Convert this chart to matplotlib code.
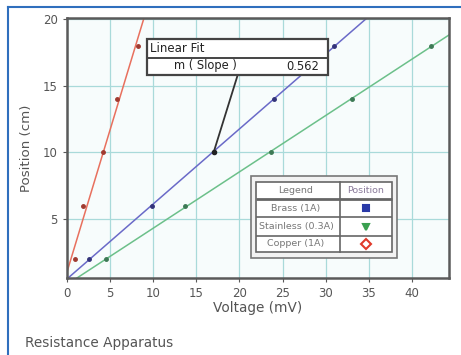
#Resistance apparatus: position vs voltage with linear fits
import matplotlib.pyplot as plt
from matplotlib.patches import Rectangle
import numpy as np

#Data
position = [2, 6, 10, 14, 18]
brass_v = [2.5, 9.8, 17.0, 24.0, 31.0]
stainless_v = [4.5, 13.7, 23.7, 33.1, 42.2]
copper_v = [0.9, 1.9, 4.2, 5.8, 8.2]

series_names = ['Brass (1A)', 'Stainless (0.3A)', 'Copper (1A)']
x_ticks = [0, 5, 10, 15, 20, 25, 30, 35, 40]
y_ticks = [5, 10, 15, 20]
slope_label = '0.562'

W, H = 461, 355
def fx(px):
    return px / W
def fy(py):
    return 1 - py / H

fig = plt.figure(figsize=(W / 100, H / 100), dpi=100)
fig.patch.set_facecolor('white')

#blue frame round the panel
fig.add_artist(plt.Line2D([fx(8), fx(8)], [fy(7), 0], color='#2f6fbd', lw=1.5))
fig.add_artist(plt.Line2D([fx(8), 1], [fy(7), fy(7)], color='#2f6fbd', lw=1.5))

ax = fig.add_axes([fx(67), fy(278), fx(449) - fx(67), fy(18) - fy(278)])
ax.set_facecolor('#f7fcfc')
ax.set_xlim(0, 44.3)
ax.set_ylim(0.6, 20.07)
ax.set_xticks(x_ticks)
ax.set_yticks(y_ticks)
ax.grid(True, color='#a9dada', lw=0.9)
ax.set_axisbelow(True)
for s in ax.spines.values():
    s.set_color('#5a5a5a')
    s.set_linewidth(1.8)
ax.tick_params(colors='#5a5a5a', labelsize=8.5, length=3, width=0.8, labelcolor='#555555')
ax.set_xlabel('Voltage (mV)', fontsize=9.8, color='#555555', labelpad=1)
ax.set_ylabel('Position (cm)', fontsize=9.6, color='#555555', labelpad=7)

line_colors = ['#6a6ac8', '#6cc08a', '#e8705e']
dot_colors = ['#33337a', '#3d7a55', '#a03a30']
xx = np.linspace(0, 44.3, 200)
for xs, lc, dc in zip([brass_v, stainless_v, copper_v], line_colors, dot_colors):
    m, b = np.polyfit(xs, position, 1)
    ax.plot(xx, m * xx + b, color=lc, lw=1.1)
    ax.plot(xs, position, 'o', color=dc, ms=2.5, zorder=3)

#linear fit box with its pointer
ax.annotate('', xy=(brass_v[2], position[2]), xycoords='data',
            xytext=(fx(238), fy(74)), textcoords='figure fraction',
            arrowprops=dict(arrowstyle='-', color='#333333', lw=1.3, shrinkA=0, shrinkB=0))
ax.plot(brass_v[2], position[2], 'o', color='#222222', ms=3, zorder=4)
fig.add_artist(Rectangle((fx(147), fy(75)), fx(328) - fx(147), fy(39) - fy(75),
                         transform=fig.transFigure, facecolor='white', edgecolor='#444444', lw=1.6))
fig.add_artist(plt.Line2D([fx(147), fx(328)], [fy(58), fy(58)], color='#444444', lw=1.4))
fig.text(fx(150), fy(48), 'Linear Fit', fontsize=8.5, color='#222222', va='center')
fig.text(fx(205), fy(66), 'm ( Slope )', fontsize=8.3, color='#222222', va='center', ha='center')
fig.text(fx(319), fy(66), slope_label, fontsize=8.3, color='#222222', va='center', ha='right')

#legend table
fig.add_artist(Rectangle((fx(251), fy(258)), fx(397) - fx(251), fy(176) - fy(258),
                         transform=fig.transFigure, facecolor='#f2f2f2', edgecolor='#777777', lw=1.2))
fig.add_artist(Rectangle((fx(256), fy(252)), fx(392) - fx(256), fy(182) - fy(252),
                         transform=fig.transFigure, facecolor='white', edgecolor='#666666', lw=1.2))
for py, lw in [(199, 2.0), (217, 1.2), (236, 1.2)]:
    fig.add_artist(plt.Line2D([fx(256), fx(392)], [fy(py), fy(py)], color='#666666', lw=lw,
                              solid_capstyle='butt'))
fig.add_artist(plt.Line2D([fx(340), fx(340)], [fy(182), fy(252)], color='#666666', lw=1.2))
fig.text(fx(296), fy(190.5), 'Legend', fontsize=6.8, color='#777777', ha='center', va='center')
fig.text(fx(366), fy(190.5), 'Position', fontsize=6.8, color='#8a7a9a', ha='center', va='center')
row_y = [208, 226.5, 244]
markers = ['s', 'v', 'D']
for name, py, mk, lc in zip(series_names, row_y, markers, ['#2a3aa8', '#3aa050', '#e03a2a']):
    fig.text(fx(296), fy(py), name, fontsize=6.8, color='#777777', ha='center', va='center')
    face = 'white' if mk == 'D' else lc
    fig.add_artist(plt.Line2D([fx(366)], [fy(py)], marker=mk, color=lc, ms=5,
                              markerfacecolor=face, markeredgewidth=1.5, linestyle='none'))

fig.text(fx(25), fy(343), 'Resistance Apparatus', fontsize=9.8, color='#555555', va='center')

fig.savefig('out.png', dpi=100)
